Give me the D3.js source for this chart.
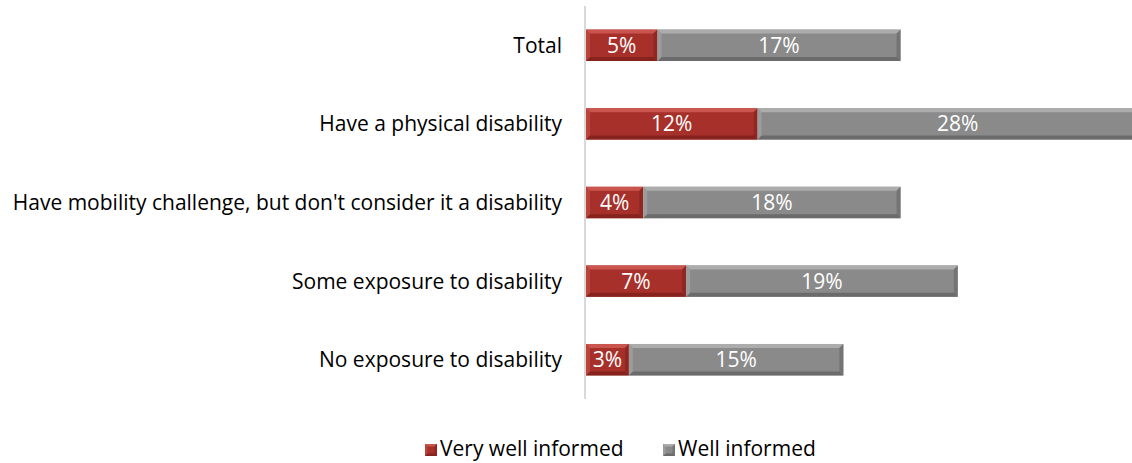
<!DOCTYPE html>
<html>
<head>
<meta charset="utf-8">
<script src="https://cdn.jsdelivr.net/npm/d3@7/dist/d3.min.js"></script>
<style>
  html, body { margin: 0; padding: 0; background: #fff; }
  svg { display: block; font-family: "Open Sans", Lato, sans-serif; }
</style>
</head>
<body>
<svg id="chart" width="1132" height="463"></svg>
<script>
// Share of respondents who feel informed, by disability group
const categories = [
  "Total",
  "Have a physical disability",
  "Have mobility challenge, but don't consider it a disability",
  "Some exposure to disability",
  "No exposure to disability"
];
const veryWellInformed = [5, 12, 4, 7, 3];
const wellInformed = [17, 28, 18, 19, 15];
const seriesNames = ["Very well informed", "Well informed"];

const colors = {
  "Very well informed": { base: "#a8302a", light: "#cf5c55", dark: "#7e211c" },
  "Well informed": { base: "#8a8a8a", light: "#b2b2b2", dark: "#636363" }
};

const svg = d3.select("#chart");
const x0 = 586;
const fontSize = 21;

const x = d3.scaleLinear().domain([0, 40]).range([x0, x0 + 40 * 14.3]);
const y = d3.scaleBand().domain(categories).range([6, 399]).paddingInner(0.6).paddingOuter(0.3);

const rows = categories.map((c, i) => ({
  cat: c,
  segs: [
    { name: seriesNames[0], start: 0, end: veryWellInformed[i], v: veryWellInformed[i] },
    { name: seriesNames[1], start: veryWellInformed[i], end: veryWellInformed[i] + wellInformed[i], v: wellInformed[i] }
  ]
}));

// Bevelled rectangle: flat face plus lighter top/left and darker bottom/right edges
function bevel(g, x1, y1, w, h, c, b) {
  const x2 = x1 + w, y2 = y1 + h;
  g.append("rect").attr("x", x1).attr("y", y1).attr("width", w).attr("height", h).attr("fill", c.base);
  const poly = (pts, fill, op) => g.append("polygon")
    .attr("points", pts.map(p => p.join(",")).join(" "))
    .attr("fill", fill).attr("opacity", op);
  poly([[x1, y1], [x2, y1], [x2 - b, y1 + b], [x1 + b, y1 + b]], c.light, 0.85);
  poly([[x1, y2], [x2, y2], [x2 - b, y2 - b], [x1 + b, y2 - b]], c.dark, 0.8);
  poly([[x1, y1], [x1 + b, y1 + b], [x1 + b, y2 - b], [x1, y2]], c.light, 0.45);
  poly([[x2, y1], [x2 - b, y1 + b], [x2 - b, y2 - b], [x2, y2]], c.dark, 0.55);
}

const bars = svg.append("g");
rows.forEach(r => {
  r.segs.forEach(s => {
    const g = bars.append("g");
    const xs = x(s.start), xe = x(s.end);
    bevel(g, xs, y(r.cat), xe - xs, y.bandwidth(), colors[s.name], 4);
    g.append("text")
      .attr("x", (xs + xe) / 2)
      .attr("y", y(r.cat) + y.bandwidth() / 2)
      .attr("dy", "0.36em")
      .attr("text-anchor", "middle")
      .attr("fill", "#fff")
      .attr("font-size", fontSize)
      .text(s.v + "%");
  });
});

// Category axis line
svg.append("line")
  .attr("x1", x0 - 1).attr("x2", x0 - 1)
  .attr("y1", 6).attr("y2", 399)
  .attr("stroke", "#d9d9d9").attr("stroke-width", 2);

// Category labels
svg.append("g").selectAll("text").data(categories).join("text")
  .attr("x", 562)
  .attr("y", d => y(d) + y.bandwidth() / 2)
  .attr("dy", "0.36em")
  .attr("text-anchor", "end")
  .attr("fill", "#000")
  .attr("font-size", fontSize)
  .text(d => d);

// Legend
const legend = svg.append("g");
const legendX = [425, 663];
seriesNames.forEach((n, i) => {
  const g = legend.append("g");
  bevel(g, legendX[i], 444, 12, 12, colors[n], 2.5);
  g.append("text")
    .attr("x", legendX[i] + 15)
    .attr("y", 456)
    .attr("fill", "#000")
    .attr("font-size", fontSize)
    .text(n);
});
</script>
</body>
</html>
